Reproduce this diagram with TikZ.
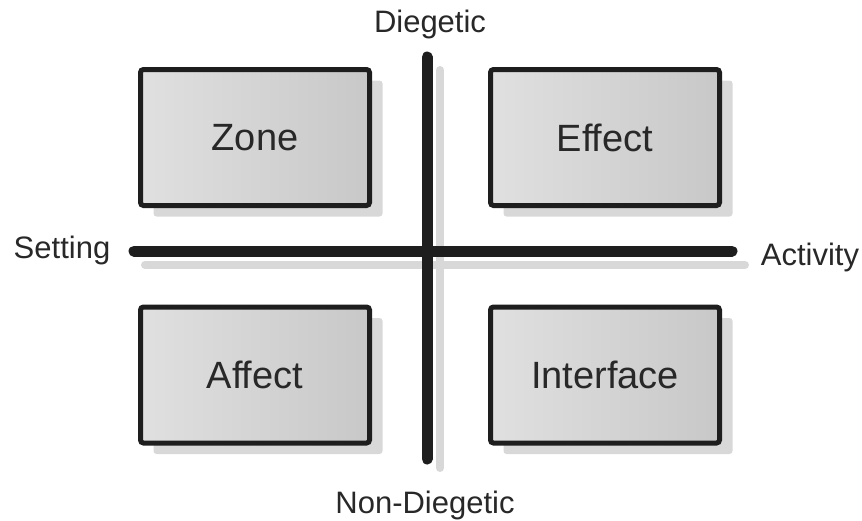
\documentclass[tikz,border=0pt]{standalone}
\usepackage{fontspec}
\setmainfont{Liberation Sans}
\usetikzlibrary{shadows}
\definecolor{shadowgray}{RGB}{216,216,216}
\definecolor{boxlight}{RGB}{224,224,224}
\definecolor{boxdark}{RGB}{200,200,200}
\definecolor{ink}{RGB}{30,30,30}
\definecolor{textgray}{RGB}{40,40,40}
\begin{document}
\begin{tikzpicture}[x=1pt,y=-1pt,
  quad/.style={draw=ink, line width=5pt, rounded corners=3pt,
    minimum width=229pt, minimum height=136pt, inner sep=0pt,
    left color=boxlight, right color=boxdark,
    font=\fontsize{38}{41}\selectfont, text=textgray,
    drop shadow={shadow xshift=13pt, shadow yshift=-11pt, fill=shadowgray, opacity=1}},
  axis/.style={line width=11pt, line cap=round, draw=ink},
  axisshadow/.style={line width=8pt, line cap=round, draw=shadowgray},
  axislabel/.style={font=\fontsize{31}{34}\selectfont, text=textgray, anchor=base, inner sep=0pt}]
\useasboundingbox (0,0) rectangle (862,520);
% axis coordinates
\coordinate (hl) at (134,251);
\coordinate (hr) at (732,251);
\coordinate (vt) at (427,57);
\coordinate (vb) at (427,459);
\coordinate (hls) at (145,265);
\coordinate (hrs) at (745,265);
\coordinate (vts) at (440,70);
\coordinate (vbs) at (440,468);
% boxes
\node[quad] (zone) at (255,137.5) {Zone};
\node[quad] (effect) at (605,137.5) {Effect};
\node[quad] (affect) at (255,375) {Affect};
\node[quad] (interface) at (605,375) {Interface};
% axis shadows
\draw[axisshadow] (hls) -- (hrs);
\draw[axisshadow] (vts) -- (vbs);
% axes
\draw[axis] (hl) -- (hr);
\draw[axis] (vt) -- (vb);
% labels
\node[axislabel] (diegetic) at (430,32) {Diegetic};
\node[axislabel] (nondiegetic) at (425,513) {Non-Diegetic};
\node[axislabel] (setting) at (62,258) {Setting};
\node[axislabel] (activity) at (810,265) {Activity};
\end{tikzpicture}
\end{document}
